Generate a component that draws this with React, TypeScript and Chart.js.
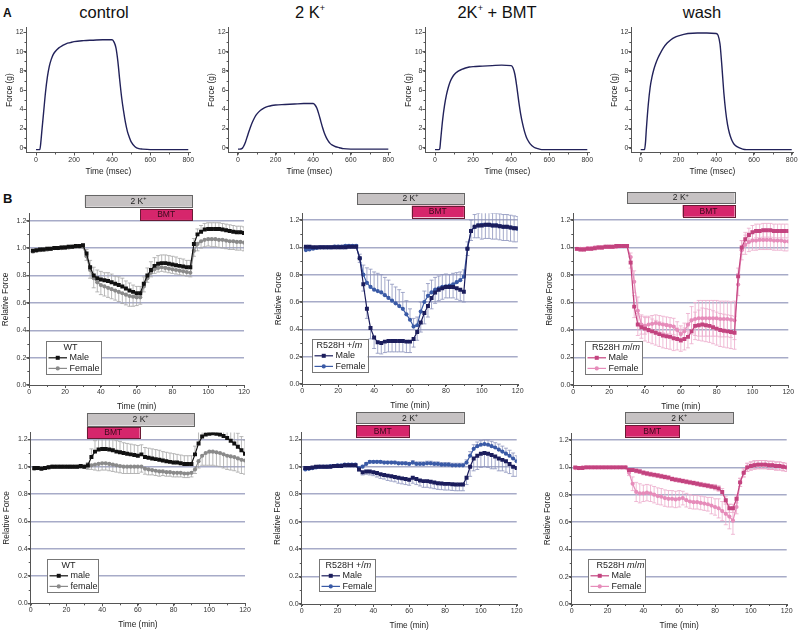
import React, { useEffect, useRef } from "react";
import { Chart, registerables } from "chart.js";
Chart.register(...registerables);

const FONT = '"Liberation Sans", Arial, Helvetica, sans-serif';

// ---------------- Panel A data (force traces) ----------------
const traceTime = [0, 10, 20, 25, 30, 40, 50, 60, 70, 80, 90, 100, 120, 140, 160, 180, 200, 250, 300, 350, 400, 410, 420, 430, 440, 450, 460, 470, 480, 490, 500, 520, 540, 560, 600, 650, 700, 750, 800];
const forceControl = [-0.2, -0.2, -0.2, 0.5, 1.6, 3.7, 5.8, 7.4, 8.5, 9.2, 9.7, 10.0, 10.4, 10.65, 10.85, 10.95, 11.05, 11.15, 11.2, 11.25, 11.25, 11.0, 10.4, 9.0, 7.0, 5.2, 3.8, 2.6, 1.7, 1.1, 0.6, 0.1, -0.1, -0.15, -0.2, -0.2, -0.2, -0.2, -0.2];
const force2K = [-0.15, -0.15, -0.1, 0.0, 0.15, 0.6, 1.2, 1.8, 2.35, 2.8, 3.2, 3.5, 3.9, 4.15, 4.3, 4.4, 4.45, 4.5, 4.55, 4.6, 4.6, 4.45, 4.1, 3.5, 2.8, 2.1, 1.5, 1.05, 0.7, 0.45, 0.3, 0.1, 0.0, -0.1, -0.15, -0.15, -0.15, -0.15, -0.15];
const force2KBMT = [-0.2, -0.2, -0.2, -0.1, 0.9, 2.9, 4.4, 5.5, 6.3, 6.9, 7.3, 7.6, 7.95, 8.15, 8.3, 8.4, 8.45, 8.5, 8.55, 8.6, 8.55, 8.3, 7.6, 6.3, 4.8, 3.5, 2.5, 1.7, 1.1, 0.7, 0.4, 0.05, -0.1, -0.2, -0.2, -0.2, -0.2, -0.2, -0.2];
const forceWash = [-0.2, -0.2, -0.2, 0.5, 2.0, 4.5, 6.3, 7.4, 8.2, 8.8, 9.3, 9.7, 10.4, 10.9, 11.25, 11.5, 11.65, 11.9, 11.95, 11.95, 11.9, 11.7, 10.8, 8.5, 5.8, 3.8, 2.4, 1.5, 0.9, 0.5, 0.25, 0.0, -0.15, -0.2, -0.2, -0.2, -0.2, -0.2, -0.2];

// ---------------- Panel B data (relative force, min) ----------------
const timeMin = [2, 4, 6, 8, 10, 12, 14, 16, 18, 20, 22, 24, 26, 28, 30, 32, 34, 36, 38, 40, 42, 44, 46, 48, 50, 52, 54, 56, 58, 60, 62, 64, 66, 68, 70, 72, 74, 76, 78, 80, 82, 84, 86, 88, 90, 92, 94, 96, 98, 100, 102, 104, 106, 108, 110, 112, 114, 116, 118, 120];

// WT, 2K+ then BMT
const wtMale2K = [0.98, 0.985, 0.99, 0.99, 0.995, 0.995, 1.0, 1.0, 1.005, 1.005, 1.01, 1.01, 1.015, 1.015, 1.02,
  0.96, 0.86, 0.80, 0.78, 0.77, 0.765, 0.76, 0.75, 0.74, 0.73, 0.72, 0.705, 0.69, 0.68, 0.67,
  0.67, 0.74, 0.80, 0.84, 0.87, 0.885, 0.89, 0.89, 0.885, 0.88, 0.875, 0.87, 0.865, 0.86, 0.86,
  1.03, 1.10, 1.12, 1.135, 1.14, 1.14, 1.14, 1.14, 1.135, 1.13, 1.125, 1.12, 1.115, 1.115, 1.11];
const wtMale2KErr = [0.01, 0.01, 0.01, 0.01, 0.01, 0.01, 0.01, 0.01, 0.01, 0.01, 0.01, 0.01, 0.01, 0.01, 0.01,
  0.03, 0.05, 0.06, 0.06, 0.06, 0.055, 0.06, 0.06, 0.055, 0.06, 0.06, 0.055, 0.055, 0.05, 0.05,
  0.05, 0.05, 0.055, 0.06, 0.06, 0.06, 0.06, 0.06, 0.06, 0.06, 0.06, 0.055, 0.055, 0.05, 0.05,
  0.04, 0.04, 0.045, 0.045, 0.045, 0.045, 0.045, 0.045, 0.045, 0.045, 0.045, 0.045, 0.045, 0.045, 0.045];
const wtFemale2K = [0.975, 0.98, 0.985, 0.99, 0.99, 0.995, 1.0, 1.0, 1.0, 1.005, 1.005, 1.01, 1.01, 1.01, 1.01,
  0.94, 0.84, 0.78, 0.75, 0.73, 0.72, 0.71, 0.70, 0.69, 0.68, 0.67, 0.66, 0.65, 0.645, 0.64,
  0.64, 0.72, 0.78, 0.82, 0.845, 0.855, 0.86, 0.855, 0.85, 0.845, 0.84, 0.835, 0.83, 0.825, 0.82,
  0.98, 1.03, 1.05, 1.06, 1.065, 1.065, 1.065, 1.06, 1.06, 1.055, 1.05, 1.05, 1.045, 1.045, 1.04];
const wtFemale2KErr = [0.01, 0.01, 0.01, 0.01, 0.01, 0.01, 0.01, 0.01, 0.01, 0.01, 0.01, 0.01, 0.01, 0.01, 0.01,
  0.03, 0.06, 0.07, 0.07, 0.07, 0.07, 0.07, 0.07, 0.07, 0.07, 0.075, 0.075, 0.075, 0.07, 0.06,
  0.05, 0.04, 0.03, 0.03, 0.03, 0.03, 0.03, 0.03, 0.03, 0.03, 0.03, 0.03, 0.03, 0.03, 0.03,
  0.04, 0.05, 0.05, 0.05, 0.05, 0.055, 0.055, 0.055, 0.06, 0.06, 0.06, 0.06, 0.06, 0.06, 0.06];

// R528H +/m, 2K+ then BMT
const hetMale2K = [1.005, 1.005, 1.0, 1.0, 1.0, 1.0, 1.0, 1.0, 1.0, 1.0, 1.0, 1.0, 1.005, 1.005, 1.005,
  0.92, 0.73, 0.55, 0.41, 0.34, 0.305, 0.30, 0.31, 0.315, 0.315, 0.315, 0.315, 0.315, 0.31, 0.31,
  0.33, 0.38, 0.45, 0.52, 0.57, 0.63, 0.67, 0.69, 0.70, 0.71, 0.71, 0.71, 0.70, 0.69, 0.675,
  0.99, 1.12, 1.15, 1.16, 1.16, 1.165, 1.165, 1.16, 1.16, 1.155, 1.15, 1.15, 1.145, 1.14, 1.14];
const hetMale2KErr = [0.01, 0.01, 0.01, 0.01, 0.01, 0.01, 0.01, 0.01, 0.01, 0.01, 0.01, 0.01, 0.01, 0.01, 0.01,
  0.03, 0.05, 0.07, 0.08, 0.08, 0.08, 0.08, 0.08, 0.08, 0.08, 0.08, 0.08, 0.08, 0.08, 0.08,
  0.06, 0.06, 0.07, 0.08, 0.08, 0.08, 0.08, 0.08, 0.08, 0.08, 0.08, 0.08, 0.08, 0.08, 0.075,
  0.05, 0.07, 0.08, 0.09, 0.1, 0.1, 0.1, 0.1, 0.1, 0.1, 0.1, 0.1, 0.1, 0.1, 0.1];
const hetFemale2K = [0.98, 0.985, 0.99, 0.995, 1.0, 1.0, 1.0, 1.0, 1.005, 1.005, 1.005, 1.01, 1.01, 1.01, 1.01,
  0.92, 0.80, 0.74, 0.71, 0.69, 0.68, 0.67, 0.65, 0.63, 0.61, 0.59, 0.57, 0.55, 0.51, 0.47,
  0.42, 0.43, 0.53, 0.60, 0.645, 0.67, 0.69, 0.70, 0.71, 0.715, 0.72, 0.73, 0.745, 0.76, 0.785,
  0.99, 1.12, 1.15, 1.16, 1.165, 1.165, 1.165, 1.16, 1.16, 1.155, 1.15, 1.15, 1.145, 1.14, 1.135];
const hetFemale2KErr = [0.01, 0.01, 0.01, 0.01, 0.01, 0.01, 0.01, 0.01, 0.01, 0.01, 0.01, 0.01, 0.01, 0.01, 0.01,
  0.03, 0.07, 0.11, 0.13, 0.13, 0.13, 0.13, 0.13, 0.13, 0.12, 0.12, 0.12, 0.12, 0.10, 0.08,
  0.06, 0.06, 0.07, 0.08, 0.09, 0.09, 0.09, 0.09, 0.09, 0.09, 0.08, 0.08, 0.07, 0.06, 0.05,
  0.05, 0.08, 0.09, 0.09, 0.09, 0.09, 0.09, 0.09, 0.09, 0.09, 0.09, 0.09, 0.09, 0.09, 0.09];

// R528H m/m, 2K+ then BMT
const homMale2K = [0.99, 0.985, 0.985, 0.99, 0.99, 0.995, 1.0, 1.0, 1.005, 1.005, 1.005, 1.01, 1.01, 1.01, 1.01,
  0.89, 0.57, 0.44, 0.42, 0.41, 0.40, 0.39, 0.38, 0.37, 0.36, 0.355, 0.35, 0.34, 0.335, 0.325,
  0.335, 0.35, 0.39, 0.43, 0.435, 0.44, 0.435, 0.43, 0.42, 0.41, 0.40, 0.395, 0.39, 0.385, 0.38,
  0.79, 1.0, 1.06, 1.09, 1.11, 1.12, 1.12, 1.125, 1.125, 1.125, 1.12, 1.12, 1.12, 1.12, 1.12];
const homMale2KErr = [0.01, 0.01, 0.01, 0.01, 0.01, 0.01, 0.01, 0.01, 0.01, 0.01, 0.01, 0.01, 0.01, 0.01, 0.01,
  0.04, 0.08, 0.08, 0.08, 0.09, 0.09, 0.09, 0.09, 0.09, 0.09, 0.09, 0.09, 0.09, 0.08, 0.08,
  0.08, 0.08, 0.09, 0.10, 0.11, 0.12, 0.12, 0.12, 0.12, 0.12, 0.12, 0.12, 0.12, 0.12, 0.12,
  0.06, 0.05, 0.05, 0.05, 0.05, 0.05, 0.05, 0.05, 0.05, 0.05, 0.05, 0.05, 0.05, 0.05, 0.05];
const homFemale2K = [0.99, 0.99, 0.99, 0.995, 0.995, 1.0, 1.0, 1.0, 1.005, 1.005, 1.005, 1.005, 1.01, 1.01, 1.01,
  0.93, 0.75, 0.54, 0.44, 0.43, 0.44, 0.445, 0.45, 0.445, 0.44, 0.435, 0.43, 0.425, 0.40, 0.37,
  0.39, 0.44, 0.47, 0.48, 0.485, 0.485, 0.485, 0.485, 0.485, 0.485, 0.48, 0.48, 0.48, 0.475, 0.47,
  0.73, 0.98, 1.02, 1.04, 1.05, 1.05, 1.055, 1.055, 1.055, 1.055, 1.05, 1.05, 1.05, 1.045, 1.045];
const homFemale2KErr = [0.01, 0.01, 0.01, 0.01, 0.01, 0.01, 0.01, 0.01, 0.01, 0.01, 0.01, 0.01, 0.01, 0.01, 0.01,
  0.03, 0.08, 0.10, 0.07, 0.06, 0.06, 0.06, 0.06, 0.06, 0.06, 0.06, 0.06, 0.06, 0.06, 0.06,
  0.06, 0.08, 0.10, 0.12, 0.13, 0.13, 0.13, 0.13, 0.13, 0.13, 0.13, 0.13, 0.13, 0.13, 0.14,
  0.08, 0.07, 0.07, 0.07, 0.07, 0.07, 0.07, 0.07, 0.07, 0.07, 0.07, 0.07, 0.07, 0.07, 0.07];

// WT, BMT then 2K+
const wtMaleBMT = [0.99, 0.99, 0.985, 0.99, 0.995, 1.0, 1.0, 1.0, 1.0, 1.0, 1.0, 1.0, 1.0, 1.005, 1.0,
  1.01, 1.07, 1.11, 1.125, 1.13, 1.13, 1.125, 1.12, 1.11, 1.105, 1.10, 1.095, 1.09, 1.085, 1.08,
  1.09, 1.07, 1.065, 1.06, 1.055, 1.05, 1.045, 1.04, 1.035, 1.03, 1.03, 1.025, 1.02, 1.02, 1.02,
  1.09, 1.17, 1.22, 1.235, 1.24, 1.245, 1.24, 1.235, 1.225, 1.21, 1.19, 1.17, 1.145, 1.12, 1.095];
const wtMaleBMTErr = [0.01, 0.01, 0.01, 0.01, 0.01, 0.01, 0.01, 0.01, 0.01, 0.01, 0.01, 0.01, 0.01, 0.01, 0.01,
  0.02, 0.06, 0.08, 0.08, 0.08, 0.08, 0.08, 0.08, 0.08, 0.08, 0.075, 0.075, 0.075, 0.075, 0.075,
  0.07, 0.07, 0.07, 0.07, 0.07, 0.07, 0.065, 0.065, 0.065, 0.065, 0.06, 0.06, 0.06, 0.06, 0.06,
  0.06, 0.1, 0.1, 0.1, 0.1, 0.1, 0.1, 0.1, 0.1, 0.1, 0.1, 0.1, 0.1, 0.1, 0.1];
const wtFemaleBMT = [0.985, 0.99, 0.99, 0.99, 0.995, 1.0, 1.0, 1.0, 1.0, 1.0, 1.0, 1.0, 1.0, 1.0, 1.0,
  1.0, 1.01, 1.015, 1.02, 1.025, 1.025, 1.02, 1.015, 1.01, 1.005, 1.0, 1.0, 1.0, 1.0, 1.0,
  1.0, 0.985, 0.98, 0.975, 0.97, 0.965, 0.965, 0.96, 0.96, 0.955, 0.955, 0.955, 0.95, 0.95, 0.955,
  0.98, 1.04, 1.08, 1.10, 1.11, 1.11, 1.105, 1.10, 1.09, 1.08, 1.075, 1.07, 1.06, 1.05, 1.045];
const wtFemaleBMTErr = [0.01, 0.01, 0.01, 0.01, 0.01, 0.01, 0.01, 0.01, 0.01, 0.01, 0.01, 0.01, 0.01, 0.01, 0.01,
  0.02, 0.03, 0.04, 0.05, 0.05, 0.05, 0.05, 0.05, 0.05, 0.05, 0.05, 0.05, 0.05, 0.05, 0.05,
  0.04, 0.04, 0.04, 0.035, 0.035, 0.035, 0.03, 0.03, 0.03, 0.03, 0.03, 0.03, 0.03, 0.03, 0.03,
  0.03, 0.05, 0.07, 0.09, 0.1, 0.1, 0.1, 0.1, 0.1, 0.1, 0.1, 0.1, 0.1, 0.1, 0.1];

// R528H +/m, BMT then 2K+
const hetMaleBMT = [0.99, 0.99, 0.995, 1.0, 1.0, 1.0, 1.0, 1.0, 1.005, 1.005, 1.005, 1.01, 1.01, 1.01, 1.01,
  0.98, 0.96, 0.965, 0.965, 0.96, 0.955, 0.945, 0.94, 0.935, 0.93, 0.925, 0.92, 0.915, 0.91, 0.905,
  0.92, 0.91, 0.90, 0.895, 0.895, 0.89, 0.885, 0.88, 0.878, 0.875, 0.875, 0.872, 0.87, 0.87, 0.87,
  0.92, 1.0, 1.06, 1.08, 1.095, 1.10, 1.095, 1.085, 1.075, 1.06, 1.05, 1.04, 1.02, 1.0, 0.99];
const hetMaleBMTErr = [0.01, 0.01, 0.01, 0.01, 0.01, 0.01, 0.01, 0.01, 0.01, 0.01, 0.01, 0.01, 0.01, 0.01, 0.01,
  0.01, 0.02, 0.02, 0.025, 0.025, 0.03, 0.03, 0.03, 0.035, 0.035, 0.035, 0.04, 0.04, 0.04, 0.04,
  0.04, 0.04, 0.04, 0.045, 0.045, 0.045, 0.045, 0.045, 0.045, 0.045, 0.045, 0.045, 0.045, 0.045, 0.045,
  0.05, 0.07, 0.09, 0.1, 0.1, 0.1, 0.1, 0.1, 0.09, 0.09, 0.08, 0.08, 0.07, 0.07, 0.06];
const hetFemaleBMT = [0.98, 0.985, 0.99, 0.995, 1.0, 1.0, 1.0, 1.005, 1.005, 1.01, 1.01, 1.015, 1.015, 1.015, 1.015,
  0.99, 1.0, 1.02, 1.035, 1.035, 1.035, 1.035, 1.03, 1.03, 1.03, 1.03, 1.025, 1.025, 1.025, 1.02,
  1.03, 1.02, 1.02, 1.02, 1.025, 1.025, 1.02, 1.02, 1.015, 1.015, 1.015, 1.01, 1.01, 1.01, 1.01,
  1.03, 1.08, 1.13, 1.15, 1.16, 1.165, 1.16, 1.15, 1.14, 1.125, 1.11, 1.095, 1.08, 1.06, 1.04];
const hetFemaleBMTErr = [0.005, 0.005, 0.005, 0.005, 0.005, 0.005, 0.005, 0.005, 0.005, 0.005, 0.005, 0.005, 0.005, 0.005, 0.005,
  0.01, 0.01, 0.01, 0.01, 0.01, 0.01, 0.01, 0.01, 0.01, 0.01, 0.01, 0.01, 0.01, 0.01, 0.01,
  0.015, 0.015, 0.015, 0.015, 0.015, 0.015, 0.015, 0.015, 0.015, 0.015, 0.015, 0.015, 0.015, 0.015, 0.015,
  0.02, 0.03, 0.03, 0.03, 0.03, 0.03, 0.035, 0.035, 0.035, 0.04, 0.04, 0.04, 0.04, 0.04, 0.04];

// R528H m/m, BMT then 2K+
const homMaleBMT = [1.0, 0.995, 0.995, 1.0, 1.0, 1.0, 1.0, 1.0, 1.0, 1.0, 1.0, 1.0, 1.0, 1.0, 1.0,
  0.98, 0.98, 0.975, 0.97, 0.96, 0.955, 0.95, 0.945, 0.94, 0.935, 0.93, 0.925, 0.915, 0.91, 0.905,
  0.90, 0.895, 0.89, 0.885, 0.88, 0.875, 0.87, 0.865, 0.86, 0.855, 0.845, 0.82, 0.76, 0.70, 0.70,
  0.77, 0.89, 0.96, 1.0, 1.01, 1.015, 1.02, 1.02, 1.02, 1.015, 1.015, 1.01, 1.01, 1.005, 1.0];
const homMaleBMTErr = [0.005, 0.005, 0.005, 0.005, 0.005, 0.005, 0.005, 0.005, 0.005, 0.005, 0.005, 0.005, 0.005, 0.005, 0.005,
  0.01, 0.01, 0.015, 0.015, 0.015, 0.015, 0.015, 0.015, 0.015, 0.015, 0.015, 0.015, 0.015, 0.015, 0.015,
  0.015, 0.015, 0.015, 0.015, 0.015, 0.015, 0.015, 0.015, 0.015, 0.02, 0.02, 0.025, 0.03, 0.03, 0.03,
  0.03, 0.03, 0.03, 0.03, 0.03, 0.03, 0.03, 0.03, 0.03, 0.03, 0.03, 0.03, 0.03, 0.03, 0.03];
const homFemaleBMT = [0.995, 0.995, 1.0, 1.0, 1.0, 1.0, 1.0, 1.0, 1.0, 1.0, 1.0, 1.0, 1.0, 1.0, 1.0,
  0.96, 0.88, 0.82, 0.81, 0.81, 0.815, 0.81, 0.80, 0.79, 0.785, 0.775, 0.77, 0.77, 0.765, 0.77,
  0.775, 0.76, 0.75, 0.745, 0.745, 0.74, 0.735, 0.73, 0.72, 0.71, 0.70, 0.68, 0.66, 0.64, 0.61,
  0.71, 0.89, 0.96, 1.0, 1.01, 1.02, 1.02, 1.02, 1.02, 1.015, 1.015, 1.01, 1.01, 1.005, 1.0];
const homFemaleBMTErr = [0.005, 0.005, 0.005, 0.005, 0.005, 0.005, 0.005, 0.005, 0.005, 0.005, 0.005, 0.005, 0.005, 0.005, 0.005,
  0.02, 0.05, 0.07, 0.07, 0.06, 0.06, 0.06, 0.06, 0.06, 0.06, 0.06, 0.06, 0.06, 0.06, 0.06,
  0.05, 0.05, 0.05, 0.05, 0.05, 0.05, 0.05, 0.05, 0.06, 0.06, 0.07, 0.07, 0.08, 0.09, 0.1,
  0.05, 0.03, 0.03, 0.03, 0.03, 0.03, 0.03, 0.03, 0.03, 0.03, 0.03, 0.03, 0.03, 0.03, 0.03];

// treatment windows (min): [start, end]
const wt2K_K = [31, 91];
const wt2K_BMT = [62, 91];
const het2K_K = [30.5, 90];
const het2K_BMT = [61, 90];
const hom2K_K = [30, 90];
const hom2K_BMT = [61, 90];
const wtBMT_K = [31.5, 91.5];
const wtBMT_BMT = [31.5, 61];
const hetBMT_K = [30.5, 90.5];
const hetBMT_BMT = [30.5, 60];
const homBMT_K = [30, 90];
const homBMT_BMT = [30, 60];

// ---------------- helpers / plugins ----------------
type Pad = { left: number; top: number; right: number; bottom: number };
type Area = { l: number; t: number; r: number; b: number };

function pts(xs: number[], ys: number[]) {
  return ys.map((v, i) => ({ x: xs[i], y: v }));
}

function minorTicksPlugin(xStep: number, yStep: number) {
  return {
    id: "minorTicks",
    afterDraw(chart: any) {
      const { ctx, chartArea: a, scales } = chart;
      const x = scales.x, y = scales.y;
      ctx.save();
      ctx.strokeStyle = "#555";
      ctx.lineWidth = 1;
      ctx.beginPath();
      for (let v = Math.ceil(x.min / xStep) * xStep; v <= x.max + 1e-9; v += xStep) {
        const px = Math.round(x.getPixelForValue(v)) + 0.5;
        ctx.moveTo(px, a.bottom);
        ctx.lineTo(px, a.bottom + 2);
      }
      for (let v = Math.ceil(y.min / yStep) * yStep; v <= y.max + 1e-9; v += yStep) {
        const py = Math.round(y.getPixelForValue(v)) + 0.5;
        ctx.moveTo(a.left, py);
        ctx.lineTo(a.left - 2, py);
      }
      ctx.stroke();
      ctx.restore();
    },
  };
}

const errorBarsPlugin = {
  id: "errBars",
  beforeDatasetsDraw(chart: any) {
    const { ctx, chartArea: a, scales } = chart;
    const x = scales.x, y = scales.y;
    ctx.save();
    ctx.beginPath();
    ctx.rect(a.left, a.top, a.right - a.left, a.bottom - a.top);
    ctx.clip();
    chart.data.datasets.forEach((ds: any) => {
      if (!ds.err) return;
      ctx.strokeStyle = ds.errColor;
      ctx.lineWidth = 0.8;
      ctx.beginPath();
      ds.data.forEach((p: any, i: number) => {
        const e = ds.err[i];
        if (!e) return;
        const px = x.getPixelForValue(p.x);
        const py = y.getPixelForValue(p.y);
        const ends: number[] = [];
        if (ds.errDir !== "down") ends.push(y.getPixelForValue(p.y + e));
        if (ds.errDir !== "up") ends.push(y.getPixelForValue(p.y - e));
        ends.forEach((ey) => {
          ctx.moveTo(px, py);
          ctx.lineTo(px, ey);
          ctx.moveTo(px - 2, ey);
          ctx.lineTo(px + 2, ey);
        });
      });
      ctx.stroke();
    });
    ctx.restore();
  },
};

type BarSpec = { win: number[]; kind: "K" | "BMT"; dy: number; h: number };

function condBarsPlugin(bars: BarSpec[]) {
  return {
    id: "condBars",
    afterDraw(chart: any) {
      const { ctx, chartArea: a, scales } = chart;
      const x = scales.x;
      ctx.save();
      bars.forEach((b) => {
        const x1 = x.getPixelForValue(b.win[0]);
        const x2 = x.getPixelForValue(b.win[1]);
        const y1 = a.top + b.dy;
        ctx.fillStyle = b.kind === "K" ? "#c6c2c3" : "#d6266c";
        ctx.fillRect(x1, y1, x2 - x1, b.h);
        ctx.strokeStyle = b.kind === "K" ? "#666" : "#6a1a35";
        ctx.lineWidth = 1;
        ctx.strokeRect(Math.round(x1) + 0.5, Math.round(y1) + 0.5, Math.round(x2 - x1), Math.round(b.h));
        const cx = (x1 + x2) / 2, cy = y1 + b.h / 2 + 0.5;
        ctx.textBaseline = "middle";
        ctx.textAlign = "left";
        if (b.kind === "K") {
          ctx.fillStyle = "#222";
          ctx.font = `8.5px ${FONT}`;
          const main = "2 K";
          const w1 = ctx.measureText(main).width;
          ctx.font = `5.5px ${FONT}`;
          const w2 = ctx.measureText("+").width;
          const sx = cx - (w1 + w2) / 2;
          ctx.font = `8.5px ${FONT}`;
          ctx.fillText(main, sx, cy);
          ctx.font = `5.5px ${FONT}`;
          ctx.fillText("+", sx + w1, cy - 3);
        } else {
          ctx.fillStyle = "#3a0b1c";
          ctx.font = `8.5px ${FONT}`;
          ctx.textAlign = "center";
          ctx.fillText("BMT", cx, cy);
        }
      });
      ctx.restore();
    },
  };
}

type LegendSpec = {
  dx: number; dy: number; w: number; h: number; tx: number;
  title: [string, boolean][];
  entries: { label: string; color: string; style: "rect" | "circle" }[];
};

function legendPlugin(L: LegendSpec) {
  return {
    id: "legendBox",
    afterDraw(chart: any) {
      const { ctx, chartArea: a } = chart;
      const bx = Math.round(a.left + L.dx), by = Math.round(a.bottom - L.dy);
      ctx.save();
      ctx.fillStyle = "#fff";
      ctx.fillRect(bx, by, L.w, L.h);
      ctx.strokeStyle = "#777";
      ctx.lineWidth = 1;
      ctx.strokeRect(bx + 0.5, by + 0.5, Math.round(L.w), Math.round(L.h));
      ctx.textBaseline = "middle";
      ctx.textAlign = "left";
      ctx.fillStyle = "#222";
      let tx = bx + L.tx;
      const ty = by + 6.5;
      L.title.forEach(([txt, it]) => {
        ctx.font = `${it ? "italic " : ""}9px ${FONT}`;
        ctx.fillText(txt, tx, ty);
        tx += ctx.measureText(txt).width;
      });
      L.entries.forEach((e, i) => {
        const ey = by + 16.8 + i * 10.6;
        ctx.strokeStyle = e.color;
        ctx.lineWidth = 1.2;
        ctx.beginPath();
        ctx.moveTo(bx + 2.5, ey);
        ctx.lineTo(bx + 21, ey);
        ctx.stroke();
        ctx.fillStyle = e.color;
        if (e.style === "rect") ctx.fillRect(bx + 11.75 - 2, ey - 2, 4, 4);
        else {
          ctx.beginPath();
          ctx.arc(bx + 11.75, ey, 2.1, 0, Math.PI * 2);
          ctx.fill();
        }
        ctx.fillStyle = "#222";
        ctx.font = `9px ${FONT}`;
        ctx.fillText(e.label, bx + 23.5, ey);
      });
      ctx.restore();
    },
  };
}

const tickFont = { size: 7, family: FONT };
const titleFont = { size: 8.3, family: FONT };

function traceChart(canvas: HTMLCanvasElement, pad: Pad, yW: number, xH: number, values: number[]) {
  return new Chart(canvas, {
    type: "line",
    data: {
      datasets: [
        {
          data: pts(traceTime, values),
          borderColor: "#22225a",
          borderWidth: 1.4,
          pointRadius: 0,
          cubicInterpolationMode: "monotone",
          fill: false,
        } as any,
      ],
    },
    options: {
      animation: false,
      responsive: false,
      events: [],
      layout: { padding: pad },
      plugins: { legend: { display: false }, tooltip: { enabled: false } },
      scales: {
        x: {
          type: "linear", min: -50, max: 810,
          ticks: { stepSize: 200, includeBounds: false, font: tickFont, color: "#333", padding: 0, maxRotation: 0, autoSkip: false },
          grid: { drawOnChartArea: false, tickLength: 3, tickColor: "#555", color: "#555" },
          border: { color: "#555", width: 1 },
          title: { display: true, text: "Time (msec)", font: titleFont, color: "#222", padding: 0 },
          afterFit: (s: any) => { s.height = xH; },
        },
        y: {
          type: "linear", min: -0.5, max: 12.5,
          ticks: { stepSize: 2, includeBounds: false, font: tickFont, color: "#333", padding: 0, autoSkip: false },
          grid: { drawOnChartArea: false, tickLength: 3, tickColor: "#555", color: "#555" },
          border: { color: "#555", width: 1 },
          title: { display: true, text: "Force (g)", font: titleFont, color: "#222", padding: 0 },
          afterFit: (s: any) => { s.width = yW; },
        },
      } as any,
    },
    plugins: [minorTicksPlugin(100, 1)],
  } as any);
}

type SeriesSpec = { vals: number[]; err: number[]; dir: "up" | "down" | "both"; color: string; errColor: string; style: "rect" | "circle" };

function relChart(canvas: HTMLCanvasElement, pad: Pad, yW: number, xH: number, series: SeriesSpec[], bars: BarSpec[], legend: LegendSpec) {
  return new Chart(canvas, {
    type: "line",
    data: {
      datasets: series.map((s) => ({
        data: pts(timeMin, s.vals),
        borderColor: s.color,
        backgroundColor: s.color,
        borderWidth: 1.2,
        pointStyle: s.style,
        pointRadius: s.style === "rect" ? 2.8 : 2.1,
        pointBorderWidth: 0,
        tension: 0,
        fill: false,
        err: s.err,
        errDir: s.dir,
        errColor: s.errColor,
      })) as any,
    },
    options: {
      animation: false,
      responsive: false,
      events: [],
      layout: { padding: pad },
      plugins: { legend: { display: false }, tooltip: { enabled: false } },
      scales: {
        x: {
          type: "linear", min: 0, max: 120,
          ticks: { stepSize: 20, includeBounds: false, font: tickFont, color: "#333", padding: 0, maxRotation: 0, autoSkip: false },
          grid: { drawOnChartArea: false, tickLength: 3, tickColor: "#555", color: "#555" },
          border: { color: "#555", width: 1 },
          title: { display: true, text: "Time (min)", font: titleFont, color: "#222", padding: 0 },
          afterFit: (s: any) => { s.height = xH; },
        },
        y: {
          type: "linear", min: 0, max: 1.25,
          ticks: { stepSize: 0.2, includeBounds: false, font: tickFont, color: "#333", padding: 0, autoSkip: false, callback: (v: any) => Number(v).toFixed(1) },
          grid: {
            drawOnChartArea: true, tickLength: 3, tickColor: "#555", lineWidth: 1.4,
            color: (c: any) => (c.tick && Math.abs(c.tick.value) < 1e-6 ? "rgba(0,0,0,0)" : "#a7abc8"),
          },
          border: { color: "#555", width: 1 },
          title: { display: true, text: "Relative Force", font: titleFont, color: "#222", padding: 0 },
          afterFit: (s: any) => { s.width = yW; },
        },
      } as any,
    },
    plugins: [errorBarsPlugin, minorTicksPlugin(10, 0.1), condBarsPlugin(bars), legendPlugin(legend)],
  } as any);
}

function ChartCanvas(props: { area: Area; yW: number; xH: number; padTop: number; padRight: number; make: (c: HTMLCanvasElement, pad: Pad) => Chart }) {
  const { area, yW, xH, padTop, padRight, make } = props;
  const ref = useRef<HTMLCanvasElement | null>(null);
  const L = Math.floor(area.l - yW);
  const T = Math.floor(area.t - padTop);
  const R = Math.ceil(area.r + padRight);
  const B = Math.ceil(area.b + xH);
  const pad: Pad = { left: area.l - yW - L, top: area.t - T, right: R - area.r, bottom: B - area.b - xH };
  useEffect(() => {
    const c = make(ref.current as HTMLCanvasElement, pad);
    return () => c.destroy();
  }, []);
  return (
    <canvas
      ref={ref}
      width={R - L}
      height={B - T}
      style={{ position: "absolute", left: L, top: T, width: R - L, height: B - T }}
    />
  );
}

// ---------------- layout (styles) ----------------
const traceAreas: Area[] = [
  { l: 26.5, t: 27.7, r: 190.2, b: 152.5 },
  { l: 228.6, t: 27.7, r: 390.2, b: 152.5 },
  { l: 425.5, t: 27.7, r: 589.2, b: 152.5 },
  { l: 631.3, t: 27.7, r: 793.6, b: 152.5 },
];
const traceValues = [forceControl, force2K, force2KBMT, forceWash];

const C_BLACK = "#111111", C_GRAY = "#8a8a8a", C_NAVY = "#1b1d5c", C_BLUE = "#3a5aa6", C_PINK_D = "#c3437f", C_PINK_L = "#e68cba";
const E_GRAY = "#a6a6a6", E_BLUE = "#8c93bd", E_PINK = "#ecabcb";

const relPanels = [
  {
    area: { l: 29.3, t: 213.85, r: 244, b: 385 },
    series: [
      { vals: wtMale2K, err: wtMale2KErr, dir: "up", color: C_BLACK, errColor: E_GRAY, style: "rect" },
      { vals: wtFemale2K, err: wtFemale2KErr, dir: "down", color: C_GRAY, errColor: E_GRAY, style: "circle" },
    ],
    bars: [{ win: wt2K_K, kind: "K", dy: -18.9, h: 11.7 }, { win: wt2K_BMT, kind: "BMT", dy: -4.9, h: 11 }],
    legend: { dx: 16.4, dy: 44, w: 55, h: 33, tx: 17.5, title: [["WT", false]], entries: [{ label: "Male", color: C_BLACK, style: "rect" }, { label: "Female", color: C_GRAY, style: "circle" }] },
  },
  {
    area: { l: 302.3, t: 213.17, r: 517.7, b: 384 },
    series: [
      { vals: hetMale2K, err: hetMale2KErr, dir: "down", color: C_NAVY, errColor: E_BLUE, style: "rect" },
      { vals: hetFemale2K, err: hetFemale2KErr, dir: "up", color: C_BLUE, errColor: E_BLUE, style: "circle" },
    ],
    bars: [{ win: het2K_K, kind: "K", dy: -20.2, h: 11 }, { win: het2K_BMT, kind: "BMT", dy: -7.5, h: 11.6 }],
    legend: { dx: 9.4, dy: 45, w: 55.5, h: 33, tx: 4.5, title: [["R528H +/", false], ["m", true]], entries: [{ label: "Male", color: C_NAVY, style: "rect" }, { label: "Female", color: C_BLUE, style: "circle" }] },
  },
  {
    area: { l: 573.3, t: 213.1, r: 788.3, b: 385 },
    series: [
      { vals: homMale2K, err: homMale2KErr, dir: "both", color: C_PINK_D, errColor: E_PINK, style: "rect" },
      { vals: homFemale2K, err: homFemale2KErr, dir: "both", color: C_PINK_L, errColor: E_PINK, style: "circle" },
    ],
    bars: [{ win: hom2K_K, kind: "K", dy: -21.1, h: 11 }, { win: hom2K_BMT, kind: "BMT", dy: -8.1, h: 11.7 }],
    legend: { dx: 11.7, dy: 44.3, w: 57, h: 32.6, tx: 7, title: [["R528H ", false], ["m", true], ["/", false], ["m", true]], entries: [{ label: "Male", color: C_PINK_D, style: "rect" }, { label: "Female", color: C_PINK_L, style: "circle" }] },
  },
  {
    area: { l: 30.7, t: 432.5, r: 245, b: 603.3 },
    series: [
      { vals: wtMaleBMT, err: wtMaleBMTErr, dir: "up", color: C_BLACK, errColor: E_GRAY, style: "rect" },
      { vals: wtFemaleBMT, err: wtFemaleBMTErr, dir: "down", color: C_GRAY, errColor: E_GRAY, style: "circle" },
    ],
    bars: [{ win: wtBMT_K, kind: "K", dy: -19.5, h: 12.5 }, { win: wtBMT_BMT, kind: "BMT", dy: -5.5, h: 11 }],
    legend: { dx: 16.6, dy: 44.3, w: 51, h: 32.7, tx: 14.5, title: [["WT", false]], entries: [{ label: "male", color: C_BLACK, style: "rect" }, { label: "female", color: C_GRAY, style: "circle" }] },
  },
  {
    area: { l: 301.7, t: 432.4, r: 516.7, b: 604 },
    series: [
      { vals: hetMaleBMT, err: hetMaleBMTErr, dir: "down", color: C_NAVY, errColor: E_BLUE, style: "rect" },
      { vals: hetFemaleBMT, err: hetFemaleBMTErr, dir: "up", color: C_BLUE, errColor: E_BLUE, style: "circle" },
    ],
    bars: [{ win: hetBMT_K, kind: "K", dy: -20.1, h: 11 }, { win: hetBMT_BMT, kind: "BMT", dy: -7.4, h: 11.7 }],
    legend: { dx: 17.3, dy: 44.7, w: 56, h: 32.4, tx: 6.5, title: [["R528H +/", false], ["m", true]], entries: [{ label: "Male", color: C_NAVY, style: "rect" }, { label: "Female", color: C_BLUE, style: "circle" }] },
  },
  {
    area: { l: 571.7, t: 433.2, r: 786.7, b: 604 },
    series: [
      { vals: homMaleBMT, err: homMaleBMTErr, dir: "both", color: C_PINK_D, errColor: E_PINK, style: "rect" },
      { vals: homFemaleBMT, err: homFemaleBMTErr, dir: "both", color: C_PINK_L, errColor: E_PINK, style: "circle" },
    ],
    bars: [{ win: homBMT_K, kind: "K", dy: -20.9, h: 11 }, { win: homBMT_BMT, kind: "BMT", dy: -8.2, h: 11.7 }],
    legend: { dx: 16.6, dy: 45, w: 57, h: 32.7, tx: 8.5, title: [["R528H ", false], ["m", true], ["/", false], ["m", true]], entries: [{ label: "Male", color: C_PINK_D, style: "rect" }, { label: "Female", color: C_PINK_L, style: "circle" }] },
  },
];

const supStyle: React.CSSProperties = { fontSize: "0.55em", position: "relative", top: "-0.75em" };

function Title(props: { x: number; children: React.ReactNode }) {
  return (
    <div
      style={{
        position: "absolute", left: props.x, top: 4, transform: "translateX(-50%)",
        fontSize: 16.5, lineHeight: "16.5px", whiteSpace: "nowrap", color: "#111", fontFamily: FONT,
      }}
    >
      {props.children}
    </div>
  );
}

export default function App() {
  return (
    <div style={{ position: "absolute", left: 0, top: 0, width: 800, height: 633, background: "#fff", overflow: "hidden", fontFamily: FONT }}>
      <div style={{ position: "absolute", left: 3, top: 7, fontSize: 12, lineHeight: "12px", fontWeight: "bold", color: "#111" }}>A</div>
      <div style={{ position: "absolute", left: 3, top: 192, fontSize: 13, lineHeight: "13px", fontWeight: "bold", color: "#111" }}>B</div>
      <Title x={104}>control</Title>
      <Title x={310}>2 K<span style={supStyle}>+</span></Title>
      <Title x={497}>2K<span style={supStyle}>+</span> + BMT</Title>
      <Title x={702}>wash</Title>
      {traceAreas.map((area, i) => (
        <ChartCanvas
          key={"a" + i}
          area={area}
          yW={22}
          xH={24.2}
          padTop={8}
          padRight={8}
          make={(c, pad) => traceChart(c, pad, 22, 24.2, traceValues[i])}
        />
      ))}
      {relPanels.map((p, i) => (
        <ChartCanvas
          key={"b" + i}
          area={p.area}
          yW={29}
          xH={26.5}
          padTop={24}
          padRight={8}
          make={(c, pad) => relChart(c, pad, 29, 26.5, p.series as SeriesSpec[], p.bars as BarSpec[], p.legend as LegendSpec)}
        />
      ))}
    </div>
  );
}
